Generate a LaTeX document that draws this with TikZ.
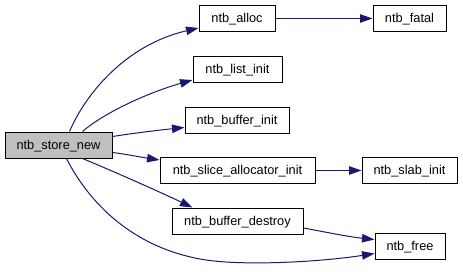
\documentclass[tikz,border=0pt]{standalone}
\usepackage{fontspec}
\setmainfont{Liberation Sans}
\usetikzlibrary{arrows.meta,calc}
\definecolor{edgeblue}{HTML}{191970}
\definecolor{rootgray}{HTML}{BFBFBF}
\begin{document}
\begin{tikzpicture}[x=1pt,y=-1pt,
  fn/.style={draw=black, line width=1pt, fill=white, minimum height=26pt,
    inner sep=0pt, text height=10pt, text depth=1.4pt,
    font=\fontsize{12.8}{14}\selectfont},
  root/.style={fn, fill=rootgray},
  call/.style={draw=edgeblue, line width=1pt,
    -{Triangle[length=12.5pt,width=8.5pt]}}]
\useasboundingbox (0,0) rectangle (463,271);

% functions
\node[root, minimum width=107pt] (store)   at (58.5,145)  {ntb\_store\_new};
\node[fn, minimum width=76pt]    (alloc)   at (237,18.5)  {ntb\_alloc};
\node[fn, minimum width=89pt]    (list)    at (237.5,69.5) {ntb\_list\_init};
\node[fn, minimum width=104pt]   (bufinit) at (237,120)   {ntb\_buffer\_init};
\node[fn, minimum width=155pt]   (slice)   at (237.5,170.5) {ntb\_slice\_allocator\_init};
\node[fn, minimum width=131pt]   (destroy) at (237.5,221) {ntb\_buffer\_destroy};
\node[fn, minimum width=73pt]    (fatal)   at (409.5,18.5) {ntb\_fatal};
\node[fn, minimum width=95pt]    (slab)    at (409.5,170.5) {ntb\_slab\_init};
\node[fn, minimum width=70pt]    (free)    at (410,246.5) {ntb\_free};

% calls
\draw[call] ($(store.north west)+(65,0)$) .. controls (85,95) and (125,45) .. ($(alloc.south west)+(0,-4)$);
\draw[call] ($(store.north west)+(78,0)$) .. controls (105,112) and (150,92) .. ($(list.south west)+(0,-3)$);
\draw[call] ($(store.north east)+(0,5)$) .. controls (135,133) and (160,130) .. ($(bufinit.south west)+(0,-6)$);
\draw[call] ($(store.south east)+(0,-6)$) .. controls (125,154) and (140,157) .. ($(slice.north west)+(0,3)$);
\draw[call] ($(store.south west)+(78,0)$) .. controls (115,172) and (160,192) .. ($(destroy.north west)+(21,0)$);
\draw[call] ($(store.south west)+(62,0)$) .. controls (85,195) and (125,245) .. (200,259)
  .. controls (240,266.5) and (320,262) .. ($(free.west)+(0,7)$);
\draw[call] ($(destroy.east)+(0,7)$) .. controls (325,232) and (350,237) .. ($(free.west)+(0,-7)$);
\draw[call] (alloc) -- (fatal);
\draw[call] (slice) -- (slab);
\end{tikzpicture}
\end{document}
